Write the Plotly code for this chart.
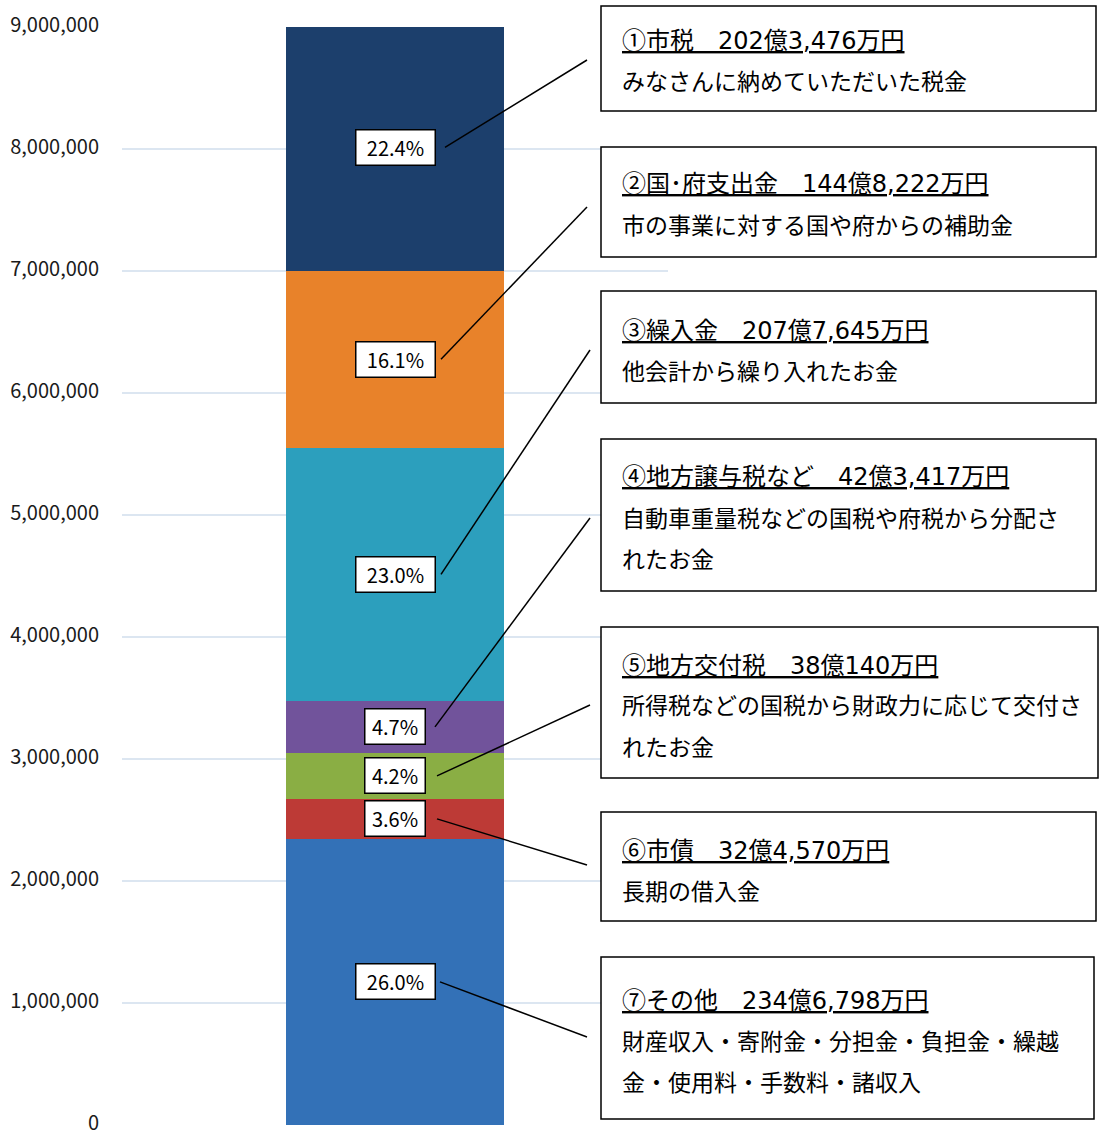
import plotly.graph_objects as go

# ---- data (values in 万円) ----
categories = ["⑦その他", "⑥市債", "⑤地方交付税", "④地方譲与税など", "③繰入金", "②国・府支出金", "①市税"]
values = [2346798, 324570, 380140, 423417, 2077645, 1448222, 2023476]
percents = ["26.0%", "3.6%", "4.2%", "4.7%", "23.0%", "16.1%", "22.4%"]
colors = ["#3371b7", "#bd3a36", "#8aae44", "#71539b", "#2c9fbd", "#e8822a", "#1c3f6c"]
tick_vals = [0, 1000000, 2000000, 3000000, 4000000, 5000000, 6000000, 7000000, 8000000, 9000000]

marks = ["⑦", "⑥", "⑤", "④", "③", "②", "①"]
titles = [
    "その他　234億6,798万円",
    "市債　32億4,570万円",
    "地方交付税　38億140万円",
    "地方譲与税など　42億3,417万円",
    "繰入金　207億7,645万円",
    "国･府支出金　144億8,222万円",
    "市税　202億3,476万円",
]
descriptions = [
    ["財産収入・寄附金・分担金・負担金・繰越", "金・使用料・手数料・諸収入"],
    ["長期の借入金"],
    ["所得税などの国税から財政力に応じて交付さ", "れたお金"],
    ["自動車重量税などの国税や府税から分配さ", "れたお金"],
    ["他会計から繰り入れたお金"],
    ["市の事業に対する国や府からの補助金"],
    ["みなさんに納めていただいた税金"],
]

# ---- layout geometry (pixels) ----
W, H = 1099, 1135
L, R, T, B = 122, 668, 27, 1125
YMAX = 9000000

def pxx(px):
    return (px - L) / (R - L)

def pxy(py):
    return (B - py) / (B - T)

def ydata(py):
    return (B - py) / (B - T) * YMAX

# text boxes: (left, top, right, bottom, first line y)
boxes = [
    (601, 957, 1094, 1119, 998),
    (601, 812, 1096, 921, 848),
    (601, 627, 1098, 778, 663),
    (601, 439, 1096, 591, 475),
    (601, 291, 1096, 403, 328),
    (601, 147, 1096, 257, 182),
    (601, 6, 1096, 111, 38),
]
line_step = 41.5
conn_end = [(587, 1037), (587, 865), (590, 705), (590, 518), (590, 350), (587, 207), (587, 60)]
conn_start_x = [440, 437, 437, 435, 441, 441, 445]

CJK = "Noto Sans CJK JP, sans-serif"
LATIN_CJK = "DejaVu Sans, Noto Sans CJK JP, sans-serif"

fig = go.Figure()
for cat, v, c in zip(categories, values, colors):
    fig.add_trace(go.Bar(
        x=[0], y=[v], name=cat, width=0.4,
        marker=dict(color=c, line=dict(width=0)),
        showlegend=False, hoverinfo="skip",
    ))

shapes = []
annotations = []
cum = 0
for i, (v, p) in enumerate(zip(values, percents)):
    center = cum + v / 2
    cum += v
    annotations.append(dict(
        x=0, y=center, xref="x", yref="y", text=p, showarrow=False,
        font=dict(family=CJK, size=20, color="#000000"),
        bgcolor="#ffffff", bordercolor="#000000", borderwidth=1.5, borderpad=1,
        width=76 if len(p) == 5 else 57, height=32,
        xanchor="center", yanchor="middle",
    ))
    ex, ey = conn_end[i]
    shapes.append(dict(
        type="line", xref="paper", yref="y",
        x0=pxx(conn_start_x[i]), y0=center, x1=pxx(ex), y1=ydata(ey),
        line=dict(color="#000000", width=1.5),
    ))
    bl, bt, br, bb, fy = boxes[i]
    shapes.append(dict(
        type="rect", xref="paper", yref="paper",
        x0=pxx(bl), x1=pxx(br), y0=pxy(bb), y1=pxy(bt),
        line=dict(color="#000000", width=1.5), fillcolor="#ffffff", layer="above",
    ))
    annotations.append(dict(
        x=pxx(620), y=pxy(fy), xref="paper", yref="paper",
        text="<u><span style='font-family:Noto Sans CJK JP'>" + marks[i] + "</span>" + titles[i] + "</u>",
        showarrow=False, xanchor="left", yanchor="middle", align="left",
        font=dict(family=LATIN_CJK, size=24, color="#000000"),
    ))
    for k, d in enumerate(descriptions[i]):
        annotations.append(dict(
            x=pxx(620), y=pxy(fy + line_step * (k + 1)), xref="paper", yref="paper",
            text=d, showarrow=False, xanchor="left", yanchor="middle", align="left",
            font=dict(family=CJK, size=23, color="#000000"),
        ))

fig.update_layout(
    width=W, height=H,
    margin=dict(l=L, r=W - R, t=T, b=H - B),
    barmode="stack",
    bargap=0,
    plot_bgcolor="#ffffff", paper_bgcolor="#ffffff",
    shapes=shapes, annotations=annotations,
    showlegend=False,
    xaxis=dict(range=[-0.5, 0.5], showticklabels=False, showgrid=False, zeroline=False,
               showline=False, fixedrange=True),
    yaxis=dict(range=[0, YMAX], tickvals=tick_vals, tickformat=",",
               showgrid=True, gridcolor="#dce6f1", gridwidth=1.5,
               zeroline=False, showline=False, ticks="", ticklabelstandoff=22,
               ticklabelshift=-2, ticklabeloverflow="allow", automargin=False,
               tickfont=dict(family=CJK, size=20, color="#1a1a1a")),
)

fig.write_html("out.html", config={"displayModeBar": False},
               post_script="document.body.style.margin='0px';")
